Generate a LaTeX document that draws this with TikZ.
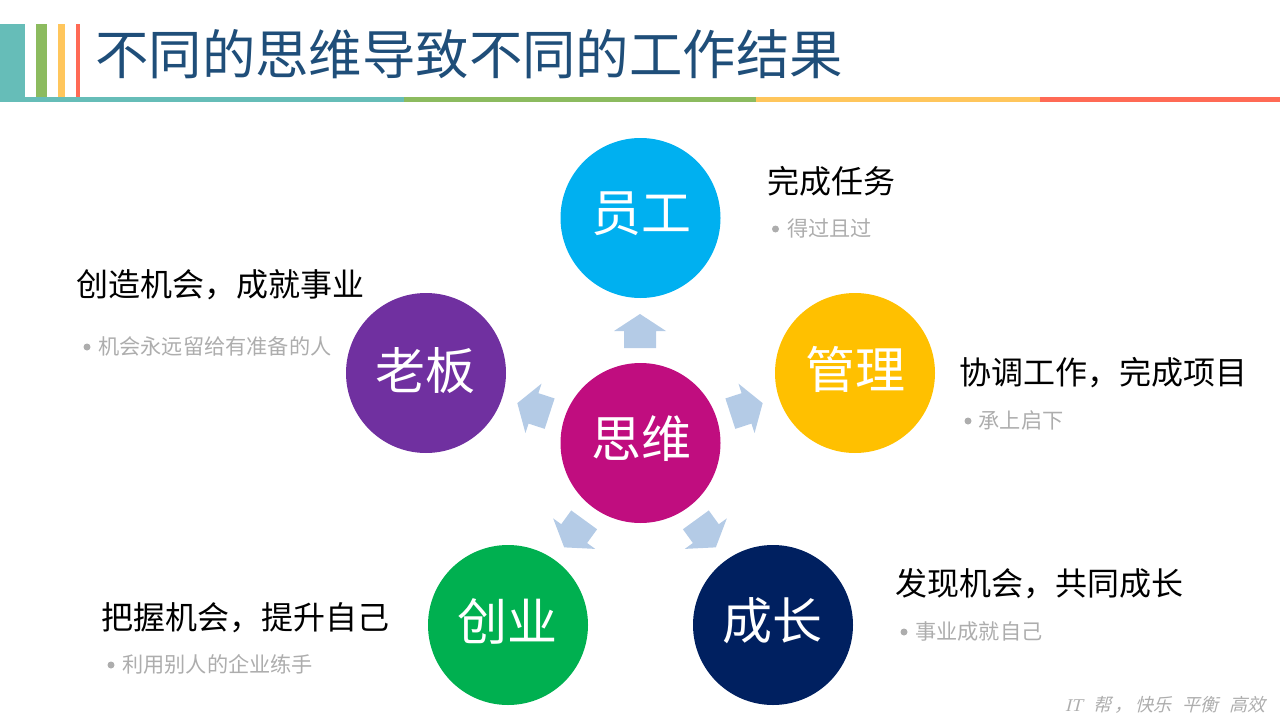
\documentclass[tikz,border=0pt]{standalone}
\usepackage{fontspec}
\setmainfont{Noto Sans CJK SC}
\newfontfamily\footfont[FakeSlant=0.25]{Noto Sans CJK SC}
\newfontfamily\footlatin[FakeSlant=0.25]{Liberation Serif}
\definecolor{barteal}{HTML}{66BDB8}
\definecolor{bargreen}{HTML}{8CBB5F}
\definecolor{baryellow}{HTML}{FFC65C}
\definecolor{barred}{HTML}{FF6A55}
\definecolor{titleblue}{HTML}{1F4E79}
\definecolor{arrowblue}{HTML}{B4CBE6}
\definecolor{subgray}{HTML}{ADADAD}
\tikzset{
	ball/.style={circle,minimum size=160pt,inner sep=0pt,text=white},
	balltxt/.style={anchor=center,inner sep=0pt,text=white,font=\fontsize{50}{50}\selectfont},
	headtxt/.style={anchor=west,inner sep=0pt,text=black,font=\fontsize{32}{32}\selectfont},
	subtxt/.style={anchor=west,inner sep=0pt,text=subgray,font=\fontsize{21.2}{21}\selectfont},
	subdot/.style={circle,inner sep=0pt,minimum size=7pt,fill=subgray},
	foottxt/.style={anchor=west,inner sep=0pt,text=subgray,font=\footfont\fontsize{18}{18}\selectfont},
}
\begin{document}
\begin{tikzpicture}[x=1pt,y=-1pt]
		\useasboundingbox (0,0) rectangle (1280,720);
		
		\fill [barteal] (0,24) rectangle (25,97); \fill [bargreen] (36,24) rectangle (47,97);
		\fill [baryellow] (58,24) rectangle (65,97); \fill [barred] (76,24) rectangle (80,97);
		\fill [barteal] (0,97) rectangle (404,102); \fill [bargreen] (404,97) rectangle (756,102);
		\fill [baryellow] (756,97) rectangle (1040,102); \fill [barred] (1040,97) rectangle (1280,102);
		\node (title) [anchor=west,inner sep=0pt,text=titleblue,font=\fontsize{53.4}{54}\selectfont] at (95,54) {不同的思维导致不同的工作结果};
		
		\node (siwei) [ball,fill={rgb,255:red,192;green,13;blue,127}] at (640.5,443) {};
		\node (yuangong) [ball,fill={rgb,255:red,0;green,176;blue,240}] at (640.5,218) {};
		\node (guanli) [ball,fill={rgb,255:red,255;green,192;blue,0}] at (855,373) {};
		\node (laoban) [ball,fill={rgb,255:red,112;green,48;blue,160}] at (426,373) {};
		\node (chuangye) [ball,fill={rgb,255:red,0;green,176;blue,80}] at (508,625) {};
		\node (chengzhang) [ball,fill={rgb,255:red,0;green,32;blue,96}] at (773,625) {};
		\node (siweitxt) [balltxt] at (641,439) {思维};
		\node (yuangongtxt) [balltxt] at (641,214) {员工};
		\node (guanlitxt) [balltxt] at (855,369) {管理};
		\node (laobantxt) [balltxt] at (425,371) {老板};
		\node (chuangyetxt) [balltxt] at (507,621) {创业};
		\node (chengzhangtxt) [balltxt] at (772,621) {成长};
		
		\foreach \ang in {0,72,144,216,288}
			\fill [arrowblue,shift={(640,443)},rotate=\ang] (0,-129) -- (26,-112) -- (16,-112) -- (16,-95) -- (-16,-95) -- (-16,-112) -- (-26,-112) -- cycle;
		
		\node (yuangonghead) [headtxt] at (767,181) {完成任务};
		\node (yuangongdot) [subdot] at (775.5,229) {}; \node (yuangongsub) [subtxt] at (787,228) {得过且过};
		\node (guanlihead) [headtxt] at (959.5,373) {协调工作，完成项目};
		\node (guanlidot) [subdot] at (968,421) {}; \node (guanlisub) [subtxt] at (978.5,420) {承上启下};
		\node (laobanhead) [headtxt] at (76,285) {创造机会，成就事业};
		\node (laobandot) [subdot] at (87,347) {}; \node (laobansub) [subtxt] at (98,346) {机会永远留给有准备的人};
		\node (chuangyehead) [headtxt] at (101.5,618) {把握机会，提升自己};
		\node (chuangyedot) [subdot] at (111,665) {}; \node (chuangyesub) [subtxt] at (122,664) {利用别人的企业练手};
		\node (chengzhanghead) [headtxt] at (895,584) {发现机会，共同成长};
		\node (chengzhangdot) [subdot] at (904,632) {}; \node (chengzhangsub) [subtxt] at (915,631) {事业成就自己};
		
		\node (foot) [foottxt] at (1065,705) {{\footlatin IT}\hspace{11pt}帮\hspace{3pt}，\hspace{3pt}快乐\hspace{11pt}平衡\hspace{11pt}高效};
		\end{tikzpicture}
\end{document}
